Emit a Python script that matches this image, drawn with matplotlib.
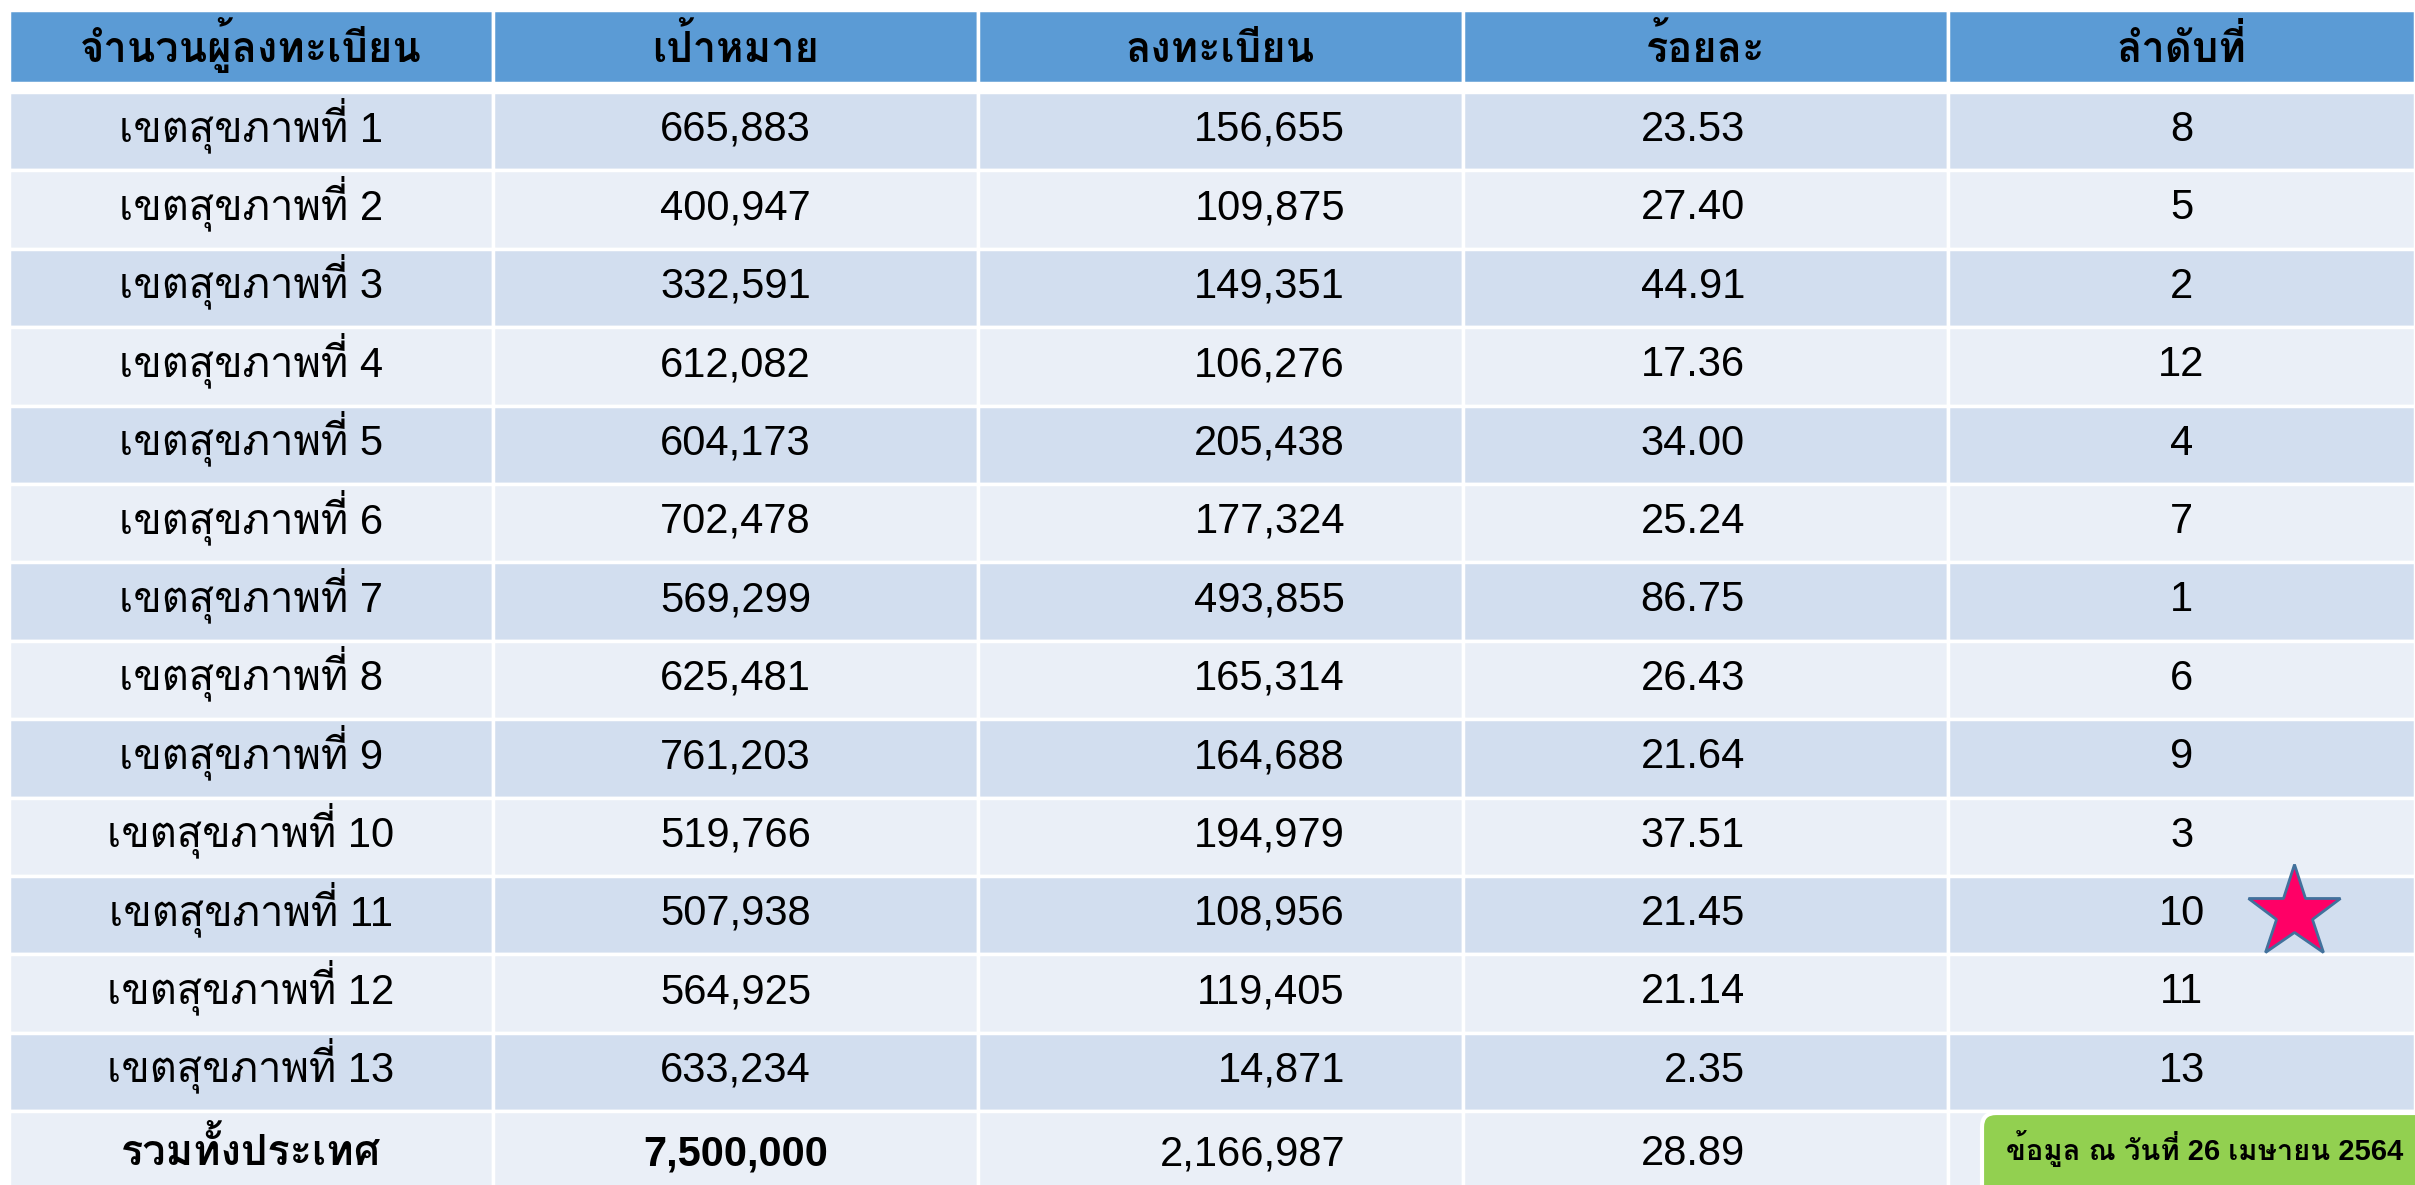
import matplotlib
matplotlib.use("Agg")
import matplotlib.pyplot as plt
from matplotlib import font_manager
from matplotlib.ft2font import FT2Font
from matplotlib.patches import Rectangle, FancyBboxPatch

# ---- data ----
headers = ["จำนวนผู้ลงทะเบียน", "เป้าหมาย", "ลงทะเบียน", "ร้อยละ", "ลำดับที่"]
regions = [f"เขตสุขภาพที่ {i}" for i in range(1, 14)]
targets = [665883, 400947, 332591, 612082, 604173, 702478, 569299,
           625481, 761203, 519766, 507938, 564925, 633234]
registered = [156655, 109875, 149351, 106276, 205438, 177324, 493855,
              165314, 164688, 194979, 108956, 119405, 14871]
percent = [23.53, 27.40, 44.91, 17.36, 34.00, 25.24, 86.75,
           26.43, 21.64, 37.51, 21.45, 21.14, 2.35]
ranks = [8, 5, 2, 12, 4, 7, 1, 6, 9, 3, 10, 11, 13]
total_label = "รวมทั้งประเทศ"
total_target = 7500000
total_registered = 2166987
total_percent = 28.89
note = "ข้อมูล ณ วันที่ 26 เมษายน 2564"
starred_region = 11


def thai_font():
    # no shaping in matplotlib: prefer a Thai font whose plain tone mark
    # already sits above the upper vowel, so "ที่" keeps its mai ek
    best, best_score = "DejaVu Sans", None
    for f in font_manager.fontManager.ttflist:
        if f.weight not in (400, "normal", "regular"):
            continue
        try:
            ft = FT2Font(f.fname)
            cmap = ft.get_charmap()
            if not all(c in cmap for c in (0x0E17, 0x0E35, 0x0E40, 0x0E48)):
                continue
            ft.set_size(48, 72)
            ii = ft.load_char(0x0E35).bbox
            ek = ft.load_char(0x0E48).bbox
        except Exception:
            continue
        score = ek[1] - ii[3]
        if f.style == "normal" and ("Sans" in f.name or "Loma" in f.name
                                    or "Garuda" in f.name):
            score += 1
        if best_score is None or score > best_score:
            best, best_score = f.name, score
    return best


names = {f.name for f in font_manager.fontManager.ttflist}
latin = "DejaVu Sans"
for cand in ["Liberation Sans Narrow", "Liberation Sans"]:
    if cand in names:
        latin = cand
        break
plt.rcParams['font.family'] = [latin, thai_font(), "DejaVu Sans"]

# ---- colours / layout ----
head_color = "#5B9BD5"
dark_row = "#D2DEEF"
light_row = "#EAEFF7"
col_x = [9, 493, 978, 1463, 1948, 2415]
head_top, head_h = 10, 73
row_top, row_h = 92, 78.4
fs = 30

fig = plt.figure(figsize=(24.15, 11.85), dpi=100)
ax = fig.add_axes([0, 0, 1, 1])
ax.set_xlim(0, 2415)
ax.set_ylim(1185, 0)
ax.axis('off')

# header
for c, h in enumerate(headers):
    x0, x1 = col_x[c], col_x[c + 1]
    ax.add_patch(Rectangle((x0, head_top), x1 - x0, head_h, facecolor=head_color,
                           edgecolor='white', lw=2.5))
    ax.text((x0 + x1) / 2, head_top + 52, h, ha='center', va='baseline',
            fontsize=30, fontweight='bold', color='black')


def cell_text(c, y, s, weight='normal'):
    x0, x1 = col_x[c], col_x[c + 1]
    if c == 2:
        x, ha = 1345, 'right'
    elif c == 3:
        x, ha = 1745, 'right'
    else:
        x, ha = (x0 + x1) / 2, 'center'
    ax.text(x, y, s, ha=ha, va='baseline', fontsize=fs, fontweight=weight,
            color='black')


rows = list(zip(regions, targets, registered, percent, ranks))
for i, (reg, tg, rg, pc, rk) in enumerate(rows):
    y0 = row_top + i * row_h
    color = dark_row if i % 2 == 0 else light_row
    for c in range(5):
        ax.add_patch(Rectangle((col_x[c], y0), col_x[c + 1] - col_x[c], row_h,
                               facecolor=color, edgecolor='white', lw=2.5))
    yb = y0 + 49
    cell_text(0, yb, reg)
    cell_text(1, yb, f"{tg:,}")
    cell_text(2, yb, f"{rg:,}")
    cell_text(3, yb, f"{pc:.2f}")
    cell_text(4, yb, str(rk))

# total row
y0 = row_top + len(rows) * row_h
for c in range(5):
    ax.add_patch(Rectangle((col_x[c], y0), col_x[c + 1] - col_x[c], 1185 - y0 + 5,
                           facecolor=light_row, edgecolor='white', lw=2.5))
yb = y0 + 54
cell_text(0, yb, total_label, 'bold')
cell_text(1, yb, f"{total_target:,}", 'bold')
cell_text(2, yb, f"{total_registered:,}")
cell_text(3, yb, f"{total_percent:.2f}")

# star next to highlighted rank
ys = row_top + (starred_region - 1) * row_h + row_h / 2
ax.plot(2294, ys - 2, marker='*', markersize=70, color='#FF0066',
        markeredgecolor='#41719C', markeredgewidth=2)

# note box
ax.add_patch(FancyBboxPatch((1982, 1113), 460, 90,
                            boxstyle="round,pad=0,rounding_size=14",
                            facecolor='#92D050', edgecolor='white', lw=3))
ax.text(2205, 1160, note, ha='center', va='baseline', fontsize=21,
        fontweight='bold', color='black')

fig.savefig("out.png", dpi=100)
